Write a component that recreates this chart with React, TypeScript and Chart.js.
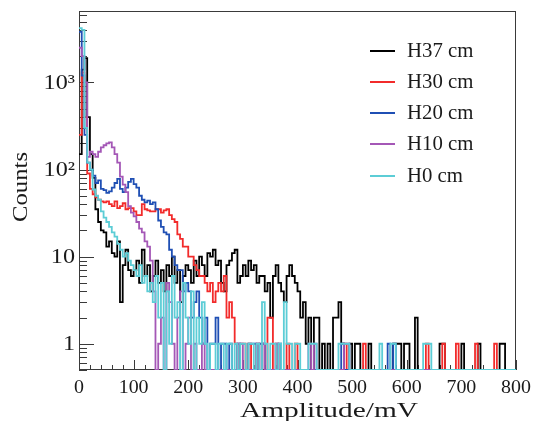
import { useEffect, useRef } from "react";
import { Chart, registerables } from "chart.js";

Chart.register(...registerables);

// ---- data -------------------------------------------------------------
const BIN_WIDTH = 5; // mV per bin
const X_MIN = 0;
const X_MAX = 800;
const Y_MIN = 0.5;
const Y_MAX = 6600;

const SERIES_LABELS = ["H37 cm", "H30 cm", "H20 cm", "H10 cm", "H0 cm"];
const SERIES_COLORS = ["#000000", "#f22b2b", "#1f4fb4", "#a457b6", "#5ccdd6"];

const X_TICKS = [0, 100, 200, 300, 400, 500, 600, 700, 800];
const Y_TICKS = [1, 10, 100, 1000];
const Y_TICK_LABELS = ["1", "10", "10\u00B2", "10\u00B3"];
const X_TITLE = "Amplitude/mV";
const Y_TITLE = "Counts";

// counts per 5 mV bin, starting at 0 mV
const H37 = [
  150, 1400, 1900, 400, 150, 80, 35, 25, 20, 19,
  13, 15, 11, 10, 15, 3, 8, 12, 7, 6,
  7, 9, 5, 12, 6, 8, 4, 6, 9, 5,
  7, 4, 8, 6, 10, 5, 7, 3, 6, 8,
  7, 5, 9, 6, 10, 8, 6, 11, 10, 12,
  8, 9, 5, 4, 8, 9, 11, 12, 5, 6,
  8, 6, 9, 7, 8, 5, 6, 6, 4, 5,
  2, 6, 8, 5, 4, 3, 6, 8, 6, 5,
  4, 2, 3, 1, 2, 0, 2, 2, 0, 1,
  0, 1, 0, 2, 2, 3, 1, 0, 0, 1,
  0, 1, 1, 0, 0, 0, 1, 0, 0, 0,
  0, 0, 0, 0, 0, 1, 1, 1, 0, 1,
  1, 0, 0, 2, 0, 0, 0, 0, 0, 0,
  0, 0, 1, 1, 0, 0, 0, 0, 0, 0,
  1, 0, 0, 0, 0, 0, 1, 0, 0, 0,
  0, 0, 0, 0, 1, 1, 0, 0, 0, 0,
];

const H30 = [
  250, 1300, 400, 90, 60, 52, 48, 45, 43, 42,
  43, 40, 38, 43, 36, 38, 41, 35, 36, 36,
  33, 30, 30, 40, 35, 34, 33, 33, 35, 35,
  32, 34, 35, 30, 27, 25, 18, 16, 13, 13,
  10, 10, 8, 7, 6, 6, 5, 4, 5, 3,
  4, 5, 4, 6, 2, 3, 2, 1, 0, 1,
  1, 0, 1, 0, 0, 1, 0, 1, 0, 2,
  2, 0, 1, 0, 0, 0, 1, 0, 0, 1,
  0, 0, 0, 0, 0, 0, 0, 0, 0, 0,
  0, 0, 0, 0, 0, 0, 0, 1, 0, 0,
  0, 0, 0, 0, 1, 0, 0, 0, 0, 0,
  0, 0, 0, 0, 0, 0, 0, 0, 0, 0,
  0, 0, 0, 0, 0, 0, 0, 1, 0, 0,
  0, 0, 0, 1, 0, 0, 0, 0, 1, 0,
  0, 0, 0, 0, 0, 1, 0, 0, 0, 0,
  0, 0, 1, 0, 0, 0, 0, 0, 0, 0,
];

const H20 = [
  3800, 1200, 250, 120, 100, 85, 70, 75, 60, 58,
  54, 56, 62, 70, 78, 60, 55, 62, 72, 78,
  68, 62, 50, 45, 42, 44, 40, 42, 35, 26,
  22, 19, 18, 12, 10, 8, 7, 7, 4, 5,
  4, 2, 3, 4, 2, 1, 2, 0, 1, 1,
  2, 0, 1, 1, 0, 1, 0, 0, 1, 0,
  0, 0, 1, 1, 1, 0, 1, 1, 0, 0,
  0, 0, 0, 1, 0, 0, 0, 0, 0, 0,
  0, 0, 0, 0, 0, 0, 0, 0, 0, 0,
  0, 0, 0, 0, 0, 0, 1, 0, 0, 0,
  0, 0, 0, 0, 0, 0, 0, 0, 0, 0,
  0, 0, 0, 1, 0, 1, 0, 0, 0, 0,
  0, 0, 0, 0, 0, 0, 0, 0, 0, 0,
  0, 0, 0, 0, 0, 0, 0, 0, 0, 0,
  0, 0, 0, 0, 0, 0, 0, 0, 0, 0,
  0, 0, 0, 0, 0, 0, 0, 0, 0, 0,
];

const H10 = [
  2500, 2000, 1000, 140, 160, 150, 140, 160, 180, 190,
  200, 205, 180, 150, 120, 83, 67, 55, 38, 32,
  29, 25, 21, 19, 15, 13, 9, 4, 0, 1,
  2, 0, 5, 3, 1, 0, 2, 4, 0, 1,
  2, 0, 1, 0, 0, 1, 0, 0, 0, 0,
  0, 0, 0, 0, 0, 0, 0, 0, 1, 1,
  0, 0, 0, 0, 0, 1, 0, 1, 0, 0,
  0, 0, 1, 0, 0, 0, 0, 0, 0, 0,
  0, 0, 0, 0, 1, 0, 1, 0, 0, 0,
  0, 0, 0, 0, 0, 0, 0, 1, 1, 0,
  0, 0, 0, 0, 0, 0, 0, 0, 0, 0,
  0, 0, 0, 0, 0, 0, 0, 0, 0, 0,
  0, 0, 0, 0, 0, 0, 0, 0, 0, 0,
  0, 0, 0, 0, 0, 0, 0, 0, 0, 0,
  0, 0, 0, 0, 0, 0, 0, 0, 0, 0,
  0, 0, 0, 0, 0, 0, 0, 0, 0, 0,
];

const H0 = [
  4200, 4000, 300, 120, 100, 59, 50, 45, 33, 28,
  25, 22, 19, 17, 14, 12, 10, 11, 9, 8,
  7, 6, 8, 5, 6, 4, 5, 3, 6, 2,
  5, 0, 4, 1, 6, 2, 3, 0, 5, 2,
  1, 4, 0, 2, 1, 3, 1, 0, 1, 1,
  0, 1, 1, 0, 1, 1, 0, 1, 0, 1,
  1, 0, 1, 1, 0, 1, 0, 3, 1, 0,
  1, 1, 0, 1, 0, 3, 1, 1, 0, 1,
  1, 0, 0, 0, 1, 1, 1, 0, 0, 0,
  0, 0, 0, 0, 0, 1, 1, 1, 1, 0,
  0, 0, 0, 0, 0, 0, 0, 0, 0, 0,
  1, 0, 0, 0, 1, 1, 0, 0, 0, 0,
  0, 0, 0, 0, 0, 0, 1, 1, 1, 0,
  0, 0, 0, 0, 0, 0, 0, 0, 0, 0,
  0, 0, 0, 0, 0, 0, 0, 0, 0, 0,
  0, 0, 0, 0, 0, 0, 0, 0, 0, 0,
];

const SERIES = [H37, H30, H20, H10, H0];

// ---- helpers ----------------------------------------------------------
const FONT = "'Liberation Serif', 'Times New Roman', serif";
const TEXT = "#1a1a1a";

function toSteps(counts: number[]) {
  // left bin edges; empty bins drawn at the bottom of the frame (ROOT style)
  const pts = counts.map((c, i) => ({ x: i * BIN_WIDTH, y: c > 0 ? c : Y_MIN }));
  const last = counts[counts.length - 1];
  pts.push({ x: counts.length * BIN_WIDTH, y: last > 0 ? last : Y_MIN });
  return pts;
}

// text drawn with a horizontal stretch factor (the reference type is wide)
function stretchedText(
  ctx: CanvasRenderingContext2D,
  text: string,
  x: number,
  y: number,
  sx: number,
  align: "left" | "center" | "right",
  rotate = 0
) {
  ctx.save();
  ctx.translate(x, y);
  if (rotate) ctx.rotate(rotate);
  ctx.scale(sx, 1);
  ctx.textAlign = align;
  ctx.fillText(text, 0, 0);
  ctx.restore();
}

const rootFrame = {
  id: "rootFrame",
  beforeDatasetsDraw(chart: any) {
    const { ctx, chartArea: a, scales } = chart;
    const x = scales.x;
    const y = scales.y;
    ctx.save();
    ctx.strokeStyle = "#3a3a3a";
    ctx.lineWidth = 1;
    ctx.strokeRect(a.left + 0.5, a.top + 0.5, a.right - a.left - 1, a.bottom - a.top - 1);
    ctx.beginPath();
    for (let n = -1; n <= 4; n++) {
      for (let k = 1; k <= 9; k++) {
        const v = k * Math.pow(10, n);
        if (v < Y_MIN || v > Y_MAX) continue;
        const py = Math.round(y.getPixelForValue(v)) + 0.5;
        const len = k === 1 ? 15 : 8;
        ctx.moveTo(a.left, py);
        ctx.lineTo(a.left + len, py);
      }
    }
    for (let v = X_MIN; v <= X_MAX; v += 20) {
      const px = Math.round(x.getPixelForValue(v)) + 0.5;
      const len = v % 100 === 0 ? 10 : 5;
      ctx.moveTo(px, a.bottom);
      ctx.lineTo(px, a.bottom - len);
    }
    ctx.stroke();
    ctx.restore();
  },
  afterDraw(chart: any) {
    const { ctx, chartArea: a, scales } = chart;
    const x = scales.x;
    const y = scales.y;
    ctx.save();
    ctx.fillStyle = TEXT;

    // tick labels, placed by the library's scales
    ctx.font = `19px ${FONT}`;
    ctx.textBaseline = "alphabetic";
    X_TICKS.forEach((v) => {
      stretchedText(ctx, String(v), x.getPixelForValue(v), a.bottom + 23, 1.05, "center");
    });
    ctx.font = `21px ${FONT}`;
    ctx.textBaseline = "middle";
    Y_TICKS.forEach((v, i) => {
      stretchedText(ctx, Y_TICK_LABELS[i], a.left - 4, y.getPixelForValue(v) + 1, 1.15, "right");
    });

    // axis titles
    ctx.font = `22px ${FONT}`;
    ctx.textBaseline = "alphabetic";
    const wx = ctx.measureText(X_TITLE).width;
    stretchedText(ctx, X_TITLE, 329, 417, 178 / wx, "center");
    ctx.textBaseline = "middle";
    const wy = ctx.measureText(Y_TITLE).width;
    stretchedText(ctx, Y_TITLE, 21, 187, 70 / wy, "center", -Math.PI / 2);
    ctx.restore();

    // legend
    ctx.save();
    ctx.font = `20px ${FONT}`;
    ctx.textBaseline = "middle";
    const rowY = [51, 82, 113, 144, 176];
    SERIES_LABELS.forEach((label, i) => {
      ctx.strokeStyle = SERIES_COLORS[i];
      ctx.lineWidth = 2;
      ctx.beginPath();
      ctx.moveTo(370, rowY[i]);
      ctx.lineTo(395, rowY[i]);
      ctx.stroke();
      ctx.fillStyle = TEXT;
      stretchedText(ctx, label, 407, rowY[i] + 1, 1.04, "left");
    });
    ctx.restore();
  },
};

export default function App() {
  const canvasRef = useRef<HTMLCanvasElement | null>(null);

  useEffect(() => {
    document.body.style.margin = "0";
    const canvas = canvasRef.current;
    if (!canvas) return;
    const datasets = SERIES.map((counts, i) => ({
      label: SERIES_LABELS[i],
      data: toSteps(counts),
      borderColor: SERIES_COLORS[i],
      backgroundColor: SERIES_COLORS[i],
      borderWidth: 1.8,
      pointRadius: 0,
      stepped: "before" as const,
      fill: false,
      order: SERIES.length - i,
    }));

    const chart = new Chart(canvas, {
      type: "line",
      data: { datasets },
      options: {
        responsive: false,
        animation: false,
        devicePixelRatio: 1,
        layout: { padding: { top: 11, right: 17, left: 0, bottom: 0 } },
        plugins: { legend: { display: false }, tooltip: { enabled: false } },
        scales: {
          x: {
            type: "linear",
            min: X_MIN,
            max: X_MAX,
            afterFit: (s: any) => {
              s.height = 51;
            },
            afterBuildTicks: (s: any) => {
              s.ticks = X_TICKS.map((v) => ({ value: v }));
            },
            grid: { display: false, drawTicks: false },
            border: { display: false },
            ticks: { display: false },
          },
          y: {
            type: "logarithmic",
            min: Y_MIN,
            max: Y_MAX,
            afterFit: (s: any) => {
              s.width = 79;
            },
            afterBuildTicks: (s: any) => {
              s.ticks = Y_TICKS.map((v) => ({ value: v, major: true }));
            },
            grid: { display: false, drawTicks: false },
            border: { display: false },
            ticks: { display: false },
          },
        },
      },
      plugins: [rootFrame],
    });
    return () => chart.destroy();
  }, []);

  return (
    <div style={{ position: "absolute", left: 0, top: 0, width: 533, height: 421, background: "#fff" }}>
      <canvas ref={canvasRef} width={533} height={421} />
    </div>
  );
}
